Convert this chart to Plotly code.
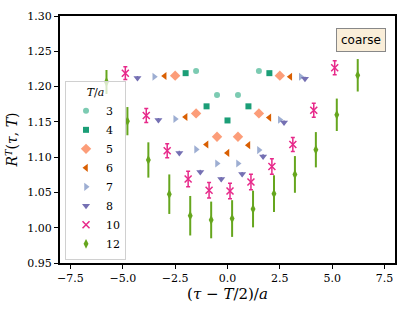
import plotly.graph_objects as go

# ---- data ----
x_T3 = [-1.5, -0.5, 0.5, 1.5]
y_T3 = [1.222, 1.188, 1.188, 1.222]
e_T3 = [0.001, 0.001, 0.001, 0.001]

x_T4 = [-2.0, -1.0, 0.0, 1.0, 2.0]
y_T4 = [1.219, 1.172, 1.152, 1.172, 1.219]
e_T4 = [0.001, 0.001, 0.001, 0.001, 0.001]

x_T5 = [-2.5, -1.5, -0.5, 0.5, 1.5, 2.5]
y_T5 = [1.2155, 1.162, 1.129, 1.129, 1.162, 1.2155]
e_T5 = [0.0015, 0.0015, 0.0015, 0.0015, 0.0015, 0.0015]

x_T6 = [-3.0, -2.0, -1.0, 0.0, 1.0, 2.0, 3.0]
y_T6 = [1.215, 1.157, 1.118, 1.106, 1.117, 1.156, 1.214]
e_T6 = [0.002, 0.002, 0.002, 0.002, 0.002, 0.002, 0.002]

x_T7 = [-3.5, -2.5, -1.5, -0.5, 0.5, 1.5, 2.5, 3.5]
y_T7 = [1.214, 1.154, 1.111, 1.091, 1.091, 1.110, 1.153, 1.214]
e_T7 = [0.002, 0.002, 0.002, 0.002, 0.002, 0.002, 0.002, 0.002]

x_T8 = [-4.3, -3.3, -2.3, -1.3, -0.3, 0.7, 1.7, 2.7, 3.7]
y_T8 = [1.212, 1.1525, 1.106, 1.079, 1.069, 1.076, 1.101, 1.149, 1.211]
e_T8 = [0.003, 0.003, 0.003, 0.003, 0.003, 0.003, 0.003, 0.003, 0.003]

x_T10 = [-4.88, -3.88, -2.88, -1.88, -0.88, 0.12, 1.12, 2.12, 3.12, 4.12, 5.12]
y_T10 = [1.219, 1.159, 1.109, 1.069, 1.053, 1.052, 1.0647, 1.0867, 1.118, 1.1665, 1.2267]
e_T10 = [0.009, 0.010, 0.010, 0.011, 0.011, 0.011, 0.011, 0.011, 0.010, 0.010, 0.010]

x_T12 = [-5.78, -4.78, -3.78, -2.78, -1.78, -0.78, 0.22, 1.22, 2.22, 3.22, 4.22, 5.22, 6.22]
y_T12 = [1.2065, 1.151, 1.096, 1.0475, 1.017, 1.011, 1.013, 1.0265, 1.0483, 1.0755, 1.1105, 1.160, 1.216]
e_T12 = [0.017, 0.020, 0.025, 0.028, 0.028, 0.026, 0.026, 0.026, 0.026, 0.026, 0.025, 0.023, 0.023]

x_ticks = [-7.5, -5.0, -2.5, 0.0, 2.5, 5.0, 7.5]
x_tick_labels = ["\u22127.5", "\u22125.0", "\u22122.5", "0.0", "2.5", "5.0", "7.5"]
y_ticks = [0.95, 1.00, 1.05, 1.10, 1.15, 1.20, 1.25, 1.30]
y_tick_labels = ["0.95", "1.00", "1.05", "1.10", "1.15", "1.20", "1.25", "1.30"]

series = [
    ("3", x_T3, y_T3, e_T3, "#66c2a5", "circle", 6, 0.85),
    ("4", x_T4, y_T4, e_T4, "#1b9e77", "square", 6, 1.0),
    ("5", x_T5, y_T5, e_T5, "#fc8d62", "diamond", 8, 0.85),
    ("6", x_T6, y_T6, e_T6, "#d95f02", "triangle-left", 7, 1.0),
    ("7", x_T7, y_T7, e_T7, "#8da0cb", "triangle-right", 7, 0.85),
    ("8", x_T8, y_T8, e_T8, "#7570b3", "triangle-down", 7, 1.0),
    ("10", x_T10, y_T10, e_T10, "#e7298a", "x-thin-open", 7, 1.0),
    ("12", x_T12, y_T12, e_T12, "#66a61e", "diamond-tall", 7, 1.0),
]

fig = go.Figure()
for name, xs, ys, es, col, sym, sz, op in series:
    is_open = sym.endswith("open")
    fig.add_trace(go.Scatter(
        x=xs, y=ys, name=name, mode="markers",
        opacity=op,
        marker=dict(symbol=sym, size=sz, color=col,
                    line=dict(width=1.5 if is_open else 0, color=col)),
        error_y=dict(type="data", array=es, visible=True, color=col,
                     thickness=2 if name == "12" else 1.5,
                     width=2 if name == "10" else 0),
    ))

serif = "DejaVu Serif"
fig.update_layout(
    width=407, height=309,
    margin=dict(l=60, r=10, t=12, b=46),
    paper_bgcolor="white", plot_bgcolor="white",
    font=dict(family=serif, size=11, color="black"),
    showlegend=True,
    legend=dict(
        title=dict(text="<i>T</i>/<i>a</i>", side="top center",
                   font=dict(family=serif, size=11)),
        x=0.015, y=0.012, xanchor="left", yanchor="bottom",
        bgcolor="rgba(255,255,255,0.75)", bordercolor="#d0d0d0", borderwidth=1,
        font=dict(family=serif, size=11),
        itemwidth=30,
    ),
    xaxis=dict(
        range=[-8.0, 8.0], tickvals=x_ticks, ticktext=x_tick_labels,
        showline=True, linecolor="black", linewidth=2, mirror=True,
        ticks="outside", ticklen=4, tickwidth=1, tickcolor="black",
        showgrid=False, zeroline=False, automargin=True,
        title=dict(text="(<i>\u03c4</i> \u2212 <i>T</i>/2)/<i>a</i>",
                   font=dict(family=serif, size=15), standoff=0),
    ),
    yaxis=dict(
        range=[0.95, 1.30], tickvals=y_ticks, ticktext=y_tick_labels,
        showline=True, linecolor="black", linewidth=2, mirror=True,
        ticks="outside", ticklen=4, tickwidth=1, tickcolor="black",
        showgrid=False, zeroline=False, automargin=True,
        ticklabeloverflow="allow",
        title=dict(text="<i>R</i><sup><i>T</i></sup>(<i>\u03c4</i>, <i>T</i>)",
                   font=dict(family=serif, size=14), standoff=6),
    ),
    annotations=[dict(
        text="coarse", xref="paper", yref="paper", x=0.899, y=0.902,
        xanchor="center", yanchor="middle", showarrow=False,
        font=dict(family="DejaVu Sans", size=12, color="black"),
        bgcolor="#faeed9", bordercolor="#888888", borderwidth=1, borderpad=4,
    )],
)

# remove the browser's default 8 px body margin so the figure fills the window
fig.write_html("out.html", config={"displayModeBar": False},
               post_script="document.body.style.margin='0px';")
